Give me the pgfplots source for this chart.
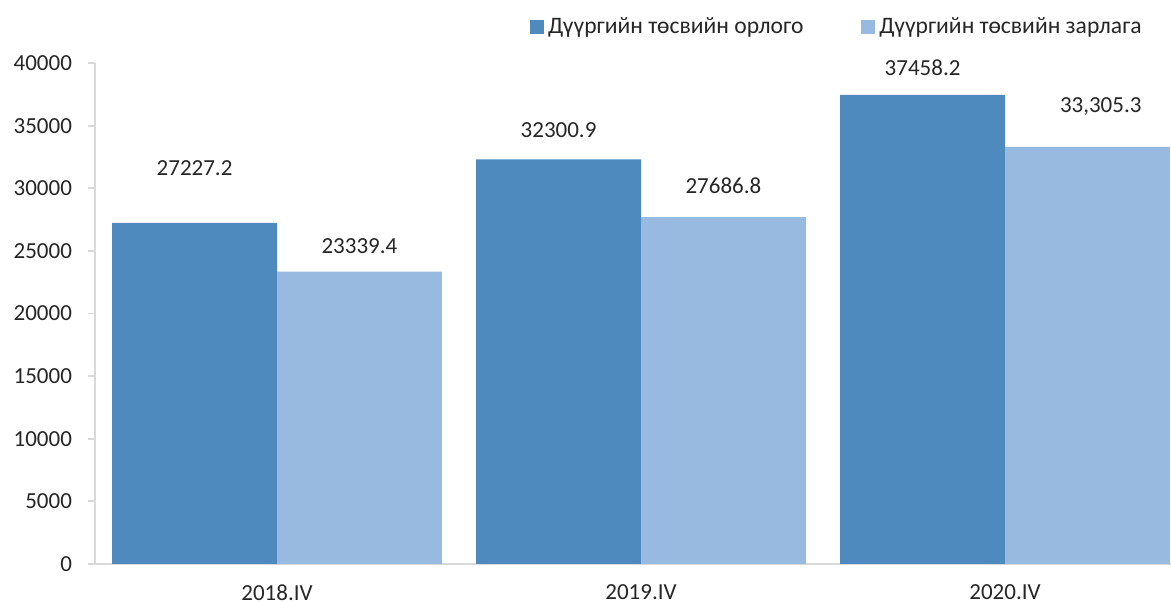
\documentclass[border=0pt]{standalone}
\usepackage{pgfplots}
\pgfplotsset{compat=1.18}
\usepackage{fontspec}
\setmainfont{Carlito}
\definecolor{cA}{RGB}{79,138,190}
\definecolor{cB}{RGB}{152,185,224}
\definecolor{txt}{RGB}{38,38,38}
\definecolor{axg}{RGB}{217,217,217}
\begin{document}
\begin{tikzpicture}
\useasboundingbox (-47.5pt,-20pt) rectangle (538pt,282pt);
\begin{axis}[
  scale only axis, width=538pt, height=250.5pt,
  clip=false,
  xmin=-0.5, xmax=2.456, ymin=0, ymax=40000,
  ytick={0,5000,...,40000}, scaled y ticks=false,
  xtick={0,1,2}, xticklabels={2018.IV,2019.IV,2020.IV},
  axis x line*=bottom, axis y line*=left,
  axis line style={axg, line width=0.9pt, -},
  y tick style={axg, line width=0.9pt},
  major tick length=3.5pt, tick align=outside,
  x tick style={draw=none},
  /pgf/number format/1000 sep={},
  /pgf/number format/assume math mode=true,
  every tick label/.append style={font=\fontsize{11.5}{13}\selectfont, text=txt},
  xticklabel style={yshift=-3.5pt},
  yticklabel style={xshift=-4.5pt},
  ybar, bar width=0.453,
  legend style={draw=none, fill=none, at={(1,1)}, anchor=south east, xshift=-9.5pt, yshift=9pt,
    font=\fontsize{11.8}{13}\selectfont, text=txt, legend columns=2,
    /tikz/every even column/.style={column sep=27pt}},
  legend image code/.code={\fill[#1] (1pt,-3.5pt) rectangle (8pt,3.5pt);},
]
\addplot[fill=cA, draw=none, bar shift=-0.2265] coordinates {(0,27227.2) (1,32300.9) (2,37458.2)};
\addplot[fill=cB, draw=none, bar shift=0.2265] coordinates {(0,23339.4) (1,27686.8) (2,33305.3)};
\legend{Дүүргийн төсвийн орлого, Дүүргийн төсвийн зарлага}
\begin{scope}[every node/.style={font=\fontsize{11.5}{13}\selectfont, text=txt}]
\node at (axis cs:-0.2265,31617) {27227.2};
\node at (axis cs:0.2265,25389) {23339.4};
\node at (axis cs:0.7735,34651) {32300.9};
\node at (axis cs:1.2265,30180) {27686.8};
\node at (axis cs:1.7735,39601) {37458.2};
\node at (axis cs:2.263,36487) {33,305.3};
\end{scope}
\end{axis}
\end{tikzpicture}
\end{document}
